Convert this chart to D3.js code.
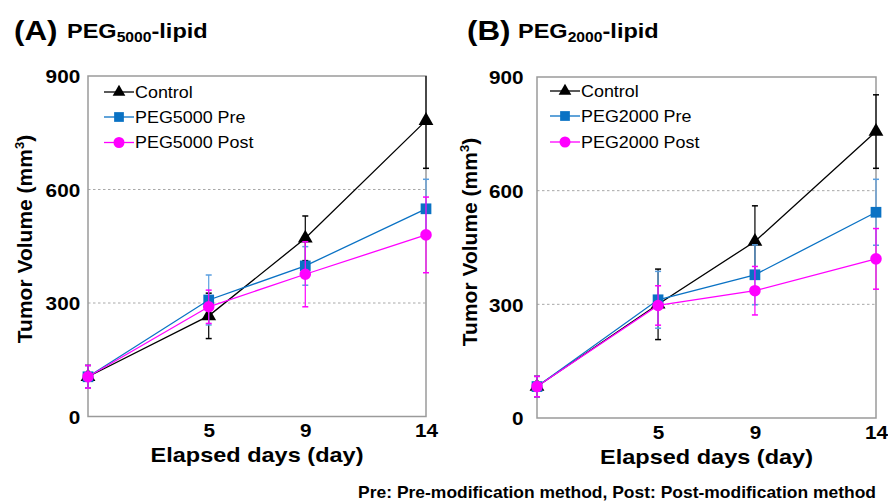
<!DOCTYPE html>
<html><head><meta charset="utf-8">
<script src="https://cdn.jsdelivr.net/npm/d3@7"></script>
<style>
html,body{margin:0;padding:0;background:#fff;}
svg text{font-family:"Liberation Sans",Arial,Helvetica,sans-serif;fill:#000;}
</style></head>
<body>
<svg id="chart" width="888" height="503"></svg>
<script>
// ---- data ----
const days = [0, 5, 9, 14];
const xTickValues = [5, 9, 14];
const yTickValues = [0, 300, 600, 900];
const gridValues = [300, 600];

const seriesNamesA = ["Control", "PEG5000 Pre", "PEG5000 Post"];
const controlA = [105, 266, 471, 782];
const controlAErr = [30, 60, 59, 126];
const preA = [105, 308, 398, 549];
const preAErr = [30, 66, 51, 78];
const postA = [105, 290, 376, 480];
const postAErr = [30, 44, 86, 100];

const seriesNamesB = ["Control", "PEG2000 Pre", "PEG2000 Post"];
const controlB = [83, 300, 466, 756];
const controlBErr = [27, 93, 94, 97];
const preB = [83, 312, 378, 543];
const preBErr = [27, 75, 79, 87];
const postB = [83, 297, 336, 420];
const postBErr = [27, 52, 64, 80];

const footnote = "Pre: Pre-modification method, Post: Post-modification method";

// ---- styles ----
const SX = 1.12; // horizontal stretch of the reference's type
const colors = ["#000000", "#0a72c4", "#ff00ff"];
const errColors = ["#000000", "#5a9fe0", "#ff00ff"];
const symbols = [d3.symbolTriangle, d3.symbolSquare, d3.symbolCircle];
const symSizes = [95, 115, 105];
const legSizes = [70, 95, 95];

const svg = d3.select("#chart");

function stretchText(sel, x, y) {
  sel.attr("x", x).attr("y", y)
     .attr("transform", `translate(${x},${y}) scale(${SX},1) translate(${-x},${-y})`);
}

function panel(opts) {
  const {left, right, top, bottom, label, sub, titleX, peGX, names, vals, errs,
         legX, legRows, yPad, yTitleX, yTitleY} = opts;
  const x = d3.scaleLinear().domain([0, 14]).range([left, right]);
  const y = d3.scaleLinear().domain([0, 900]).range([bottom, top]);

  // title
  const t1 = svg.append("text").attr("font-size", 28).attr("font-weight", "bold").text(label);
  stretchText(t1, titleX, 40);
  const t2 = svg.append("text").attr("font-size", 21).attr("font-weight", "bold");
  t2.append("tspan").text("PEG");
  t2.append("tspan").attr("font-size", 14).attr("dy", 4).text(sub);
  t2.append("tspan").attr("dy", -4).text("-lipid");
  stretchText(t2, peGX, 38);

  // gridlines
  svg.append("g").selectAll("line").data(gridValues).join("line")
    .attr("x1", left).attr("x2", right)
    .attr("y1", d => y(d)).attr("y2", d => y(d))
    .attr("stroke", "#a8a8a8").attr("stroke-width", 1).attr("stroke-dasharray", "2.5,2.5");

  // frame
  svg.append("rect").attr("x", left).attr("y", top)
    .attr("width", right - left).attr("height", bottom - top)
    .attr("fill", "none").attr("stroke", "#9a9a9a").attr("stroke-width", 1.5);

  // y axis
  const ya = svg.append("g").attr("transform", `translate(${left},0)`)
    .call(d3.axisLeft(y).tickValues(yTickValues).tickSize(0).tickPadding(yPad).tickFormat(d3.format("d")));
  ya.select(".domain").remove();
  ya.selectAll("text").attr("font-size", 18.5).attr("font-weight", "bold")
    .attr("font-family", "Liberation Sans, Arial, sans-serif")
    .attr("transform", `scale(${SX},1)`).attr("dy", "0.36em");

  // x axis
  const xa = svg.append("g").attr("transform", `translate(0,${bottom})`)
    .call(d3.axisBottom(x).tickValues(xTickValues).tickSize(0).tickPadding(0).tickFormat(d3.format("d")));
  xa.select(".domain").remove();
  xa.selectAll("text").attr("font-size", 18.5).attr("font-weight", "bold")
    .attr("font-family", "Liberation Sans, Arial, sans-serif")
    .attr("y", 21).attr("dy", 0)
    .attr("transform", `scale(${SX},1)`);
  xa.selectAll(".tick text").attr("x", 0);

  // axis titles
  const xt = svg.append("text").attr("font-size", 21).attr("font-weight", "bold")
    .attr("text-anchor", "middle").text("Elapsed days (day)");
  stretchText(xt, (left + right) / 2, bottom + 46);

  const yt = svg.append("text").attr("font-size", 21).attr("font-weight", "bold")
    .attr("text-anchor", "middle")
    .attr("transform", `translate(${yTitleX},${yTitleY}) rotate(-90)`);
  yt.append("tspan").text("Tumor Volume (mm");
  yt.append("tspan").attr("font-size", 13).attr("dy", -8).text("3");
  yt.append("tspan").attr("dy", 8).text(")");

  const clampY = v => Math.max(0, Math.min(900, v));
  const line = d3.line().x((d, i) => x(days[i])).y(d => y(d));

  vals.forEach((vs, si) => {
    const g = svg.append("g");
    // error bars
    vs.forEach((v, i) => {
      const lo = clampY(v - errs[si][i]), hi = clampY(v + errs[si][i]);
      const cx = x(days[i]);
      g.append("line").attr("x1", cx).attr("x2", cx).attr("y1", y(lo)).attr("y2", y(hi))
        .attr("stroke", errColors[si]).attr("stroke-width", 1.2);
      [[v - errs[si][i], lo], [v + errs[si][i], hi]].forEach(([raw, c]) => {
        if (raw >= 0 && raw <= 900) {
          g.append("line").attr("x1", cx - 3).attr("x2", cx + 3).attr("y1", y(c)).attr("y2", y(c))
            .attr("stroke", errColors[si]).attr("stroke-width", 1.5);
        }
      });
    });
    g.append("path").datum(vs).attr("d", line).attr("fill", "none")
      .attr("stroke", colors[si]).attr("stroke-width", 1.3);
    g.selectAll("path.m").data(vs).join("path").attr("class", "m")
      .attr("transform", (d, i) => `translate(${x(days[i])},${y(d)})`)
      .attr("d", d3.symbol().type(symbols[si]).size(symSizes[si]))
      .attr("fill", colors[si]);
  });

  // legend
  names.forEach((n, si) => {
    const ry = legRows[si];
    svg.append("line").attr("x1", legX).attr("x2", legX + 30).attr("y1", ry).attr("y2", ry)
      .attr("stroke", colors[si]).attr("stroke-width", 1.3);
    svg.append("path").attr("transform", `translate(${legX + 15},${ry})`)
      .attr("d", d3.symbol().type(symbols[si]).size(legSizes[si]))
      .attr("fill", colors[si]);
    const tx = svg.append("text").attr("font-size", 16).attr("dy", "0.36em").text(n);
    stretchText(tx, legX + 31, ry);
  });
}

panel({left: 88, right: 426, top: 76, bottom: 416.5, label: "(A)", sub: "5000",
  titleX: 14, peGX: 67, names: seriesNamesA,
  vals: [controlA, preA, postA], errs: [controlAErr, preAErr, postAErr],
  legX: 104, legRows: [92, 117, 142.5], yPad: 7, yTitleX: 32, yTitleY: 239});

panel({left: 537, right: 876, top: 77, bottom: 418, label: "(B)", sub: "2000",
  titleX: 467, peGX: 518, names: seriesNamesB,
  vals: [controlB, preB, postB], errs: [controlBErr, preBErr, postBErr],
  legX: 550, legRows: [91, 116, 142], yPad: 12, yTitleX: 477, yTitleY: 242});

const fn = svg.append("text").attr("font-size", 15.6).attr("font-weight", "bold")
  .attr("text-anchor", "end").text(footnote);
stretchText(fn, 876, 498);
</script>
</body></html>
